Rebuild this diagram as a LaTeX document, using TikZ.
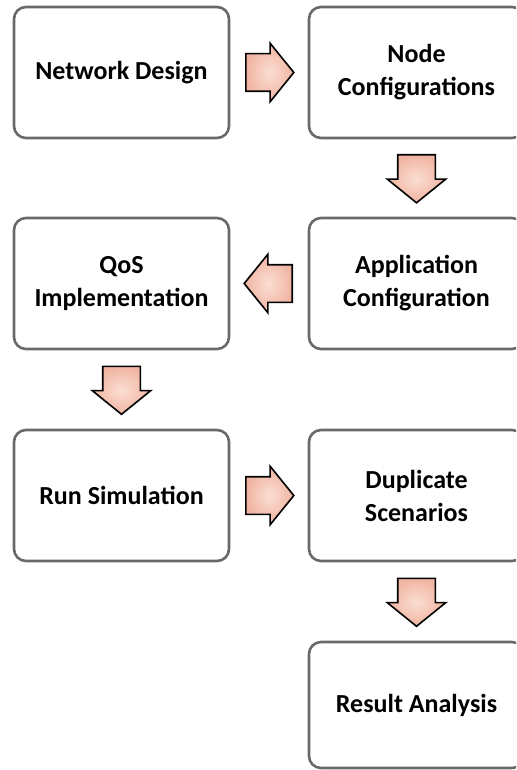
\documentclass[tikz,border=0pt]{standalone}
\usepackage{fontspec}
\setmainfont{Carlito}
\usetikzlibrary{shapes.arrows,calc}
\definecolor{boxgray}{RGB}{105,105,105}
\definecolor{arrowpink}{RGB}{240,180,160}
\definecolor{arrowlight}{RGB}{251,222,212}
\begin{document}
\begin{tikzpicture}[x=0.5pt,y=-0.5pt,
        stage/.style={draw=boxgray,line width=1.3pt,rounded corners=6pt,
            minimum width=107.5pt,minimum height=65.5pt,align=center,
            font=\fontsize{13}{16.5}\selectfont\bfseries},
        blockarrow/.style={single arrow,draw=black,line width=0.8pt,anchor=tail,
            inner xsep=0pt,inner ysep=9pt,minimum height=24pt,
            single arrow head extend=5.25pt,single arrow tip angle=102,
            inner color=arrowlight,outer color=arrowpink}]
    \clip (0,0) rectangle (516,770);

    % boxes
    \node [stage] (design) at (121.5,72.5) {Network Design};
    \node [stage] (nodecfg) at (416.5,72.5) {Node\\Configurations};
    \node [stage] (appcfg) at (416.5,283.5) {Application\\Configuration};
    \node [stage] (qos) at (121.5,283.5) {QoS\\Implementation};
    \node [stage] (runsim) at (121.5,495.5) {Run Simulation};
    \node [stage] (dup) at (416.5,495.5) {Duplicate\\Scenarios};
    \node [stage,minimum height=63pt] (result) at (416.5,705) {Result Analysis};

    % block arrows (tail placed half a length before the gap's middle)
    \node [blockarrow] (a1) at ($(design.east)!0.5!(nodecfg.west)+(-24,0)$) {};
    \node [blockarrow,rotate=-90] (a2) at ($(nodecfg.south)!0.5!(appcfg.north)+(0,-24)$) {};
    \node [blockarrow,rotate=180] (a3) at ($(appcfg.west)!0.5!(qos.east)+(24,0)$) {};
    \node [blockarrow,rotate=-90] (a4) at ($(qos.south)!0.5!(runsim.north)+(0,-24)$) {};
    \node [blockarrow] (a5) at ($(runsim.east)!0.5!(dup.west)+(-24,0)$) {};
    \node [blockarrow,rotate=-90] (a6) at ($(dup.south)!0.5!(result.north)+(0,-24)$) {};
\end{tikzpicture}
\end{document}
